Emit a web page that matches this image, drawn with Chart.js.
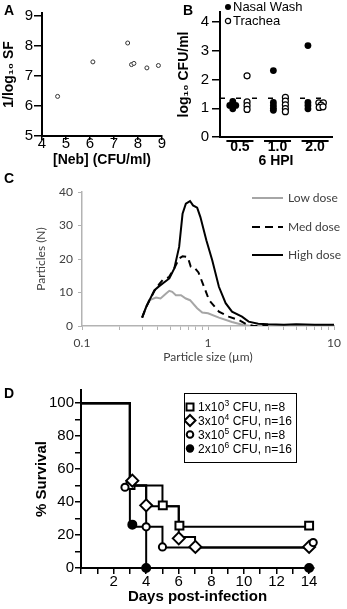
<!DOCTYPE html>
<html>
<head>
<meta charset="utf-8">
<script src="https://cdn.jsdelivr.net/npm/chart.js@4/dist/chart.umd.min.js"></script>
<style>
  body { margin: 0; width: 347px; height: 609px; position: relative; overflow: hidden; background: #fff; font-family: "Liberation Sans", Arial, sans-serif; }
  canvas { position: absolute; }
  .panel { position: absolute; font-weight: bold; font-size: 14px; line-height: 16px; }
  .leg { position: absolute; font-size: 13px; line-height: 14px; white-space: nowrap; }
  .legD { position: absolute; font-size: 12px; line-height: 14px; white-space: nowrap; letter-spacing: 0.1px; }
  .legC { position: absolute; font-family: Lato, sans-serif; font-size: 12px; line-height: 14px; color: #404040; white-space: nowrap; }
  .mk { position: absolute; }
  .sup { font-size: 8.5px; position: relative; top: -5px; }
  #boxD { position: absolute; left: 184px; top: 393px; width: 111px; height: 68px; border: 1.5px solid #000; }
</style>
</head>
<body>
<canvas id="chartA" width="170" height="172" style="left:0;top:0"></canvas>
<canvas id="chartB" width="177" height="172" style="left:170px;top:0"></canvas>
<canvas id="chartC" width="347" height="200" style="left:0;top:165px"></canvas>
<canvas id="chartD" width="347" height="229" style="left:0;top:380px"></canvas>

<div class="panel" style="left:4px;top:2px">A</div>
<div class="panel" style="left:183px;top:2px">B</div>
<div class="panel" style="left:4px;top:170px">C</div>
<div class="panel" style="left:4px;top:385px">D</div>

<!-- legend B -->
<svg class="mk" style="left:224px;top:3px" width="8" height="8"><circle cx="4" cy="4" r="3" fill="#000"/></svg>
<div class="leg" style="left:233px;top:0px">Nasal Wash</div>
<svg class="mk" style="left:224px;top:17px" width="8" height="8"><circle cx="4" cy="4" r="2.6" fill="#fff" stroke="#000" stroke-width="1.2"/></svg>
<div class="leg" style="left:233px;top:14px">Trachea</div>

<!-- legend C -->
<svg class="mk" style="left:252px;top:192px" width="34" height="70">
  <line x1="0" y1="6" x2="31" y2="6" stroke="#a6a6a6" stroke-width="2"/>
  <line x1="0" y1="35" x2="31" y2="35" stroke="#000" stroke-width="2" stroke-dasharray="8 5"/>
  <line x1="0" y1="63" x2="31" y2="63" stroke="#000" stroke-width="2"/>
</svg>
<div class="legC" style="left:288px;top:191px">Low dose</div>
<div class="legC" style="left:288px;top:220px">Med dose</div>
<div class="legC" style="left:288px;top:248px">High dose</div>

<!-- legend D -->
<div id="boxD"></div>
<svg class="mk" style="left:184px;top:400px" width="14" height="58">
  <rect x="2.5" y="3.5" width="7" height="7" fill="#fff" stroke="#000" stroke-width="2"/>
  <polygon points="6,15 11.5,20.5 6,26 0.5,20.5" fill="#fff" stroke="#000" stroke-width="2"/>
  <circle cx="6" cy="34.5" r="3.3" fill="#fff" stroke="#000" stroke-width="2"/>
  <circle cx="6" cy="48.5" r="4.2" fill="#000"/>
</svg>
<div class="legD" style="left:198px;top:400px">1x10<span class="sup">3</span> CFU, n=8</div>
<div class="legD" style="left:198px;top:414px">3x10<span class="sup">4</span> CFU, n=16</div>
<div class="legD" style="left:198px;top:428px">3x10<span class="sup">5</span> CFU, n=8</div>
<div class="legD" style="left:198px;top:442px">2x10<span class="sup">6</span> CFU, n=16</div>

<script>
// Panel A: survival fraction vs nebulizer concentration
const nebConc = [4.65, 6.12, 7.57, 7.73, 7.83, 8.37, 8.85];
const invLogSF = [6.32, 7.47, 8.1, 7.38, 7.42, 7.27, 7.35];

// Panel B: recovery 6 HPI (x = group index + jitter)
const hpiGroups = ["0.5", "1.0", "2.0"];
const nasalX = [-0.27, -0.19, -0.11, -0.19, -0.19, 0.89, 0.89, 0.89, 0.89, 0.89, 1.81, 1.81, 1.81, 1.81];
const nasalY = [1.1, 1.1, 1.1, 1.24, 0.98, 2.31, 1.2, 1.1, 1.0, 0.93, 3.18, 1.2, 1.1, 0.98];
const tracheaX = [0.19, 0.19, 0.19, 0.19, 1.21, 1.21, 1.21, 1.21, 1.21, 2.1, 2.22, 2.16, 2.11, 2.21];
const tracheaY = [2.13, 1.22, 1.09, 0.96, 1.38, 1.25, 1.12, 0.99, 0.88, 1.19, 1.19, 1.11, 1.03, 1.05];
const detectionLimit = 1.35;

// Panel C: particle size distributions
const highSize = [0.3, 0.323, 0.376, 0.41, 0.493, 0.54, 0.59, 0.628, 0.667, 0.72, 0.76, 0.82, 0.87, 0.97, 1.08, 1.22, 1.38, 1.55, 1.86, 2.1, 2.5, 3, 4, 5, 7, 10];
const highCount = [2.5, 5.7, 10.7, 11.9, 14.2, 17.2, 23.6, 33.5, 36.5, 37.3, 36, 35.3, 32.5, 25.6, 19.6, 11.7, 6.8, 4.3, 2.8, 1.3, 0.7, 0.5, 0.4, 0.5, 0.4, 0.4];
const medSize = [0.3, 0.323, 0.376, 0.41, 0.436, 0.49, 0.54, 0.59, 0.628, 0.69, 0.73, 0.79, 0.84, 0.93, 1.02, 1.22, 1.46, 1.75, 2.0, 2.3, 3];
const medCount = [2.5, 5.7, 10.5, 12.5, 13.7, 14.6, 17.2, 20.2, 20.8, 20.6, 17.7, 17.2, 16, 11.7, 7.7, 4.3, 2.8, 1.8, 0.6, 0, 0];
const lowSize = [0.3, 0.34, 0.387, 0.42, 0.465, 0.493, 0.52, 0.556, 0.61, 0.667, 0.72, 0.82, 0.9, 1.0, 1.22, 1.55, 1.9, 2.2, 3];
const lowCount = [2.5, 7.7, 8.5, 8.2, 9.7, 10.5, 10.2, 9.2, 9.2, 8.2, 7.7, 5.3, 4, 3.8, 2.5, 1.2, 0.3, 0, 0];

// Panel D: Kaplan-Meier survival
const sqDays = [0, 3, 5, 6, 14];
const sqSurv = [100, 50, 37.5, 25, 25];
const dmDays = [0, 3, 4, 6, 7, 14];
const dmSurv = [100, 50, 37.5, 18.75, 12.5, 12.5];
const ocDays = [0, 3, 4, 5, 14];
const ocSurv = [100, 50, 25, 12.5, 12.5];
const fcDays = [0, 3, 4, 14];
const fcSurv = [100, 25, 0, 0];
// marker positions (slightly offset in the figure)
const sqMarkX = [3.04, 5.02, 6.04, 14];
const sqMarkY = [50.3, 38, 25.7, 25.7];
const dmMarkX = [3.15, 4, 6, 7.02, 14];
const dmMarkY = [53, 38, 18, 12.8, 12.8];
const ocMarkX = [2.7, 4, 5, 14.25];
const ocMarkY = [49, 25, 12.8, 15.4];
const fcMarkX = [3.15, 4, 14];
const fcMarkY = [26.3, 0, 0];

const toPoints = (xs, ys) => xs.map((x, i) => ({ x, y: ys[i] }));

Chart.defaults.font.family = "'Liberation Sans', Arial, sans-serif";
Chart.defaults.color = "#000";
Chart.defaults.animation = false;
Chart.defaults.plugins.legend.display = false;
Chart.defaults.plugins.tooltip.enabled = false;

const blackBorder = { display: true, color: "#000", width: 2 };
const tickGrid = (len) => ({ drawOnChartArea: false, drawTicks: true, tickLength: len, color: "#000", lineWidth: 1.5 });

// Panel A
new Chart(document.getElementById("chartA"), {
  type: "scatter",
  data: {
    datasets: [{
      data: toPoints(nebConc, invLogSF),
      pointRadius: 2, pointBorderWidth: 1, pointBorderColor: "#333", pointBackgroundColor: "#fff",
    }],
  },
  options: {
    responsive: false,
    layout: { padding: { left: 1, top: 13, right: 8, bottom: 3 } },
    scales: {
      x: {
        min: 4, max: 9,
        ticks: { stepSize: 1, padding: -5, font: { size: 15 } },
        grid: tickGrid(4), border: blackBorder,
        title: { display: true, text: "[Neb] (CFU/ml)", font: { size: 14, weight: "bold" }, padding: 0 },
        afterFit: (s) => { s.height = 33; },
      },
      y: {
        min: 5, max: 9.1,
        ticks: { stepSize: 1, includeBounds: false, padding: 1, font: { size: 15 } },
        grid: tickGrid(8), border: blackBorder,
        title: { display: true, text: "1/log\u2081\u2080 SF", font: { size: 14, weight: "bold" }, padding: 0 },
        afterFit: (s) => { s.width = 41; },
      },
    },
  },
});

// Panel B
const groupBars = {
  id: "groupBars",
  afterDraw(chart) {
    const { ctx, scales: { x } } = chart;
    ctx.save();
    ctx.strokeStyle = "#000";
    ctx.lineWidth = 2;
    hpiGroups.forEach((g, i) => {
      ctx.beginPath();
      ctx.moveTo(x.getPixelForValue(i - 0.36), x.top + 4);
      ctx.lineTo(x.getPixelForValue(i + 0.36), x.top + 4);
      ctx.stroke();
    });
    ctx.restore();
  },
};

new Chart(document.getElementById("chartB"), {
  type: "scatter",
  data: {
    datasets: [
      { data: toPoints(nasalX, nasalY), pointRadius: 3.4, pointBorderWidth: 0, pointBackgroundColor: "#000" },
      { data: toPoints(tracheaX, tracheaY), pointRadius: 3, pointBorderWidth: 1.2, pointBorderColor: "#000", pointBackgroundColor: "#fff" },
      {
        type: "line",
        data: [{ x: -0.53, y: detectionLimit }, { x: 2.45, y: detectionLimit }],
        borderColor: "#000", borderWidth: 1.5, borderDash: [5, 11], pointRadius: 0,
      },
    ],
  },
  options: {
    responsive: false,
    layout: { padding: { left: 6, top: 8, right: 15, bottom: 2 } },
    scales: {
      x: {
        type: "linear", min: -0.53, max: 2.45,
        afterBuildTicks: (s) => { s.ticks = hpiGroups.map((g, i) => ({ value: i })); },
        ticks: { padding: 2, font: { size: 14, weight: "bold" }, callback: (v) => hpiGroups[Math.round(v)] },
        grid: { display: false, drawTicks: false }, border: blackBorder,
        title: { display: true, text: "6 HPI", font: { size: 14, weight: "bold" }, padding: 0 },
        afterFit: (s) => { s.height = 33; },
      },
      y: {
        min: 0, max: 4.35,
        ticks: { stepSize: 1, includeBounds: false, padding: 3, font: { size: 15 } },
        grid: tickGrid(8), border: blackBorder,
        title: { display: true, text: "log\u2081\u2080 CFU/ml", font: { size: 14, weight: "bold" }, padding: 0 },
        afterFit: (s) => { s.width = 44; },
      },
    },
  },
  plugins: [groupBars],
});

// Panel C
const grayAxis = "#b3b3b3";
const labelGray = "#404040";
new Chart(document.getElementById("chartC"), {
  type: "scatter",
  data: {
    datasets: [
      { data: toPoints(highSize, highCount), showLine: true, borderColor: "#000", borderWidth: 2, pointRadius: 0 },
      { data: toPoints(medSize, medCount), showLine: true, borderColor: "#000", borderWidth: 2, borderDash: [7, 5], pointRadius: 0 },
      { data: toPoints(lowSize, lowCount), showLine: true, borderColor: "#a6a6a6", borderWidth: 2, pointRadius: 0 },
    ],
  },
  options: {
    responsive: false,
    layout: { padding: { left: 34, top: 27, right: 9, bottom: 1 } },
    scales: {
      x: {
        type: "logarithmic", min: 0.1, max: 10,
        ticks: {
          autoSkip: false, maxRotation: 0, padding: 6, color: labelGray,
          font: { family: "Lato, sans-serif", size: 12 },
          callback: (v) => {
            const e = Math.log10(v);
            if (Math.abs(e - Math.round(e)) > 1e-6) return "";
            return Math.round(e) < 0 ? "0.1" : String(Math.round(v));
          },
        },
        grid: { drawOnChartArea: false, tickLength: 4, color: grayAxis, lineWidth: 1 },
        border: { color: grayAxis, width: 1.5 },
        title: { display: true, text: "Particle size (\u00b5m)", color: labelGray, font: { family: "Lato, sans-serif", size: 12 }, padding: 0 },
        afterFit: (s) => { s.height = 38; },
      },
      y: {
        min: 0, max: 40,
        ticks: { stepSize: 10, padding: 5, color: labelGray, font: { family: "Lato, sans-serif", size: 12 } },
        grid: { drawOnChartArea: false, tickLength: 4, color: grayAxis, lineWidth: 1 },
        border: { color: grayAxis, width: 1.5 },
        title: { display: true, text: "Particles (N)", color: labelGray, font: { family: "Lato, sans-serif", size: 12 }, padding: 0 },
        afterFit: (s) => { s.width = 48; },
      },
    },
  },
});

// Panel D
const marker = (xs, ys, style, radius, fill) => ({
  data: toPoints(xs, ys), pointStyle: style, pointRadius: radius, pointBorderWidth: 2,
  pointBorderColor: "#000", pointBackgroundColor: fill, showLine: false, clip: false,
});
const stepLine = (xs, ys) => ({
  data: toPoints(xs, ys), showLine: true, stepped: true, borderColor: "#000", borderWidth: 2, pointRadius: 0, clip: false,
});

new Chart(document.getElementById("chartD"), {
  type: "scatter",
  data: {
    datasets: [
      marker(fcMarkX, fcMarkY, "circle", 4, "#000"),
      marker(ocMarkX, ocMarkY, "circle", 3.6, "#fff"),
      marker(dmMarkX, dmMarkY, "rectRot", 6, "#fff"),
      marker(sqMarkX, sqMarkY, "rect", 5.6, "#fff"),
      stepLine(sqDays, sqSurv),
      stepLine(dmDays, dmSurv),
      stepLine(ocDays, ocSurv),
      stepLine(fcDays, fcSurv),
    ],
  },
  options: {
    responsive: false,
    layout: { padding: { left: 33, top: 8, right: 33, bottom: 3 } },
    scales: {
      x: {
        min: 0, max: 14.3,
        ticks: {
          stepSize: 1, includeBounds: false, autoSkip: false, maxRotation: 0, padding: -1, font: { size: 15 },
          callback: (v) => (v > 0 && v % 2 === 0 ? String(v) : ""),
        },
        grid: tickGrid(6), border: blackBorder,
        title: { display: true, text: "Days post-infection", font: { size: 15, weight: "bold" }, padding: 0 },
        afterFit: (s) => { s.height = 38; },
      },
      y: {
        min: 0, max: 108,
        ticks: {
          stepSize: 10, includeBounds: false, autoSkip: false, padding: 1, font: { size: 15 },
          callback: (v) => (v % 20 === 0 ? String(v) : ""),
        },
        grid: tickGrid(6), border: blackBorder,
        title: { display: true, text: "% Survival", font: { size: 15, weight: "bold" }, padding: 0 },
        afterFit: (s) => { s.width = 48; },
      },
    },
  },
});
</script>
</body>
</html>
